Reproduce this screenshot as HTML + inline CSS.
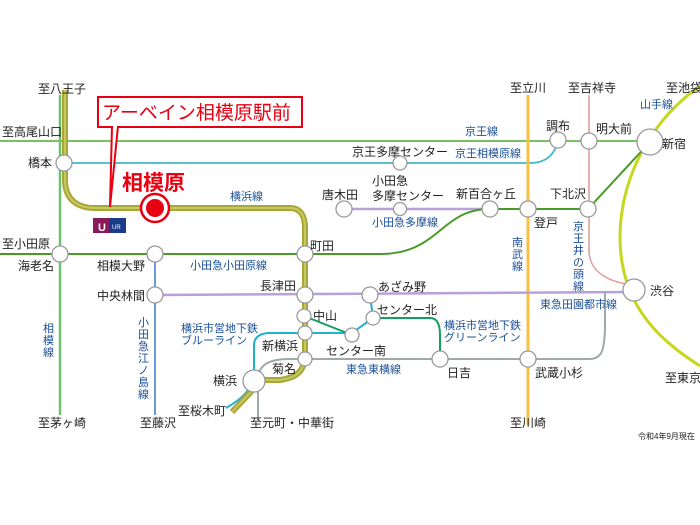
<!DOCTYPE html>
<html><head><meta charset="utf-8"><style>
html,body{margin:0;padding:0;background:#fff;}
svg{display:block;font-family:"Liberation Sans","Noto Sans CJK JP",sans-serif;}
.k{fill:#222;font-size:12px;}
.b{fill:#1a4f9a;font-size:11px;}
.s{fill:#fff;stroke:#999;stroke-width:1.3;}
</style></head><body>
<svg width="700" height="525" viewBox="0 0 700 525" xmlns="http://www.w3.org/2000/svg">
<rect width="700" height="525" fill="#fff"/>
<path d="M700,86 C640,128 612,200 622,262 C630,312 662,342 700,366" fill="none" stroke="#c5d81e" stroke-width="3"/>
<line x1="60" y1="95" x2="60" y2="415" stroke="#6cc070" stroke-width="2.5"/>
<line x1="0" y1="141" x2="650" y2="141" stroke="#7ac060" stroke-width="2"/>
<path d="M64,163 H530 C548,163 556,152 558,140" fill="none" stroke="#40b8c8" stroke-width="1.8"/>
<line x1="528" y1="95" x2="528" y2="425" stroke="#f8c040" stroke-width="3"/>
<path d="M589,95 V250 C589,270 605,280 626,284" fill="none" stroke="#e0a0a0" stroke-width="1.6"/>
<line x1="344" y1="209" x2="490" y2="209" stroke="#b8a0d8" stroke-width="2.5"/>
<path d="M0,254 H380 C440,254 440,209 490,209 H588 L650,142" fill="none" stroke="#4a9a2a" stroke-width="2"/>
<line x1="155" y1="254" x2="155" y2="415" stroke="#5b8fd8" stroke-width="1.8"/>
<line x1="155" y1="295" x2="634" y2="292" stroke="#b8a0d8" stroke-width="2.5"/>
<path d="M258,420 V380 C258,364 270,359 290,359 H590 C604,359 604,345 605,330 V292" fill="none" stroke="#a0a8a8" stroke-width="2"/>
<path d="M226,408 C240,400 254,390 254,370 V345 C254,336 262,333 270,333 H352 L373,318 L370,295" fill="none" stroke="#20b0d0" stroke-width="2"/>
<path d="M304,316 L352,335 M373,318 H430 C438,318 440,326 440,335 V359" fill="none" stroke="#10a060" stroke-width="2"/>
<path d="M65,90 V180 C65,200 78,208 95,208 H290 C300,208 305,215 305,228 V355 C305,372 295,378 280,380 H262 L232,412" fill="none" stroke="#a8a83a" stroke-width="6"/>
<path d="M65,90 V180 C65,200 78,208 95,208 H290 C300,208 305,215 305,228 V355 C305,372 295,378 280,380 H262 L232,412" fill="none" stroke="#c8c860" stroke-width="2"/>
<g class="s">
<circle cx="64" cy="163" r="8"/><circle cx="400" cy="163" r="7"/>
<circle cx="558" cy="140" r="8"/><circle cx="589" cy="141" r="8"/>
<circle cx="650" cy="142" r="13"/>
<circle cx="344" cy="209" r="8"/><circle cx="400" cy="209" r="6.5"/>
<circle cx="490" cy="209" r="8"/><circle cx="528" cy="209" r="8"/><circle cx="588" cy="209" r="8"/>
<circle cx="60" cy="254" r="8"/><circle cx="155" cy="254" r="8"/><circle cx="305" cy="254" r="8"/>
<circle cx="155" cy="295" r="8"/><circle cx="305" cy="295" r="8"/><circle cx="370" cy="295" r="8"/>
<circle cx="634" cy="290" r="11"/>
<circle cx="304" cy="316" r="7"/><circle cx="373" cy="318" r="7"/>
<circle cx="305" cy="333" r="7"/><circle cx="352" cy="335" r="7"/>
<circle cx="305" cy="359" r="7"/><circle cx="440" cy="359" r="8"/><circle cx="528" cy="359" r="8"/>
<circle cx="254" cy="381" r="11"/>
</g>
<circle cx="155" cy="208" r="15" fill="#fff"/>
<circle cx="155" cy="208" r="14" fill="none" stroke="#e60012" stroke-width="2.5"/>
<circle cx="155" cy="208" r="9" fill="#e60012"/>
<text x="122" y="190" fill="#e60012" font-size="21" font-weight="bold">相模原</text>
<path d="M112,126 L110,207 L118,126" fill="#fff" stroke="#e60012" stroke-width="2"/>
<rect x="98" y="97" width="204" height="30" fill="#fff" stroke="#e60012" stroke-width="2"/>
<line x1="113" y1="127" x2="117" y2="127" stroke="#fff" stroke-width="3"/>
<text x="102" y="119" fill="#e60012" font-size="19">アーベイン相模原駅前</text>
<rect x="93" y="218" width="16" height="15" fill="#8a1a5a"/>
<rect x="109" y="218" width="17" height="15" fill="#1a3a8a"/>
<text x="98" y="231" fill="#fff" font-size="11" font-weight="bold">U</text>
<text x="112" y="229" fill="#fff" font-size="6">UR</text>
<g class="k">
<text x="38" y="93">至八王子</text>
<text x="2" y="136">至高尾山口</text>
<text x="28" y="167">橋本</text>
<text x="2" y="248">至小田原</text>
<text x="18" y="270">海老名</text>
<text x="97" y="270">相模大野</text>
<text x="97" y="300">中央林間</text>
<text x="310" y="250">町田</text>
<text x="260" y="290">長津田</text>
<text x="313" y="320">中山</text>
<text x="262" y="350">新横浜</text>
<text x="272" y="373">菊名</text>
<text x="213" y="385">横浜</text>
<text x="178" y="415">至桜木町</text>
<text x="250" y="427">至元町・中華街</text>
<text x="38" y="427">至茅ヶ崎</text>
<text x="140" y="427">至藤沢</text>
<text x="378" y="291">あざみ野</text>
<text x="377" y="314">センター北</text>
<text x="326" y="355">センター南</text>
<text x="447" y="377">日吉</text>
<text x="535" y="377">武蔵小杉</text>
<text x="650" y="295">渋谷</text>
<text x="665" y="382">至東京</text>
<text x="510" y="427">至川崎</text>
<text x="510" y="92">至立川</text>
<text x="568" y="92">至吉祥寺</text>
<text x="666" y="92">至池袋</text>
<text x="546" y="130">調布</text>
<text x="596" y="133">明大前</text>
<text x="662" y="148">新宿</text>
<text x="352" y="156">京王多摩センター</text>
<text x="322" y="199">唐木田</text>
<text x="372" y="185">小田急</text>
<text x="372" y="200">多摩センター</text>
<text x="456" y="198">新百合ヶ丘</text>
<text x="550" y="198">下北沢</text>
<text x="534" y="227">登戸</text>
</g>
<g class="b">
<text x="465" y="135">京王線</text>
<text x="455" y="157">京王相模原線</text>
<text x="640" y="108">山手線</text>
<text x="230" y="200">横浜線</text>
<text x="190" y="269">小田急小田原線</text>
<text x="372" y="226">小田急多摩線</text>
<text x="540" y="308">東急田園都市線</text>
<text x="444" y="329">横浜市営地下鉄</text>
<text x="444" y="341">グリーンライン</text>
<text x="181" y="332">横浜市営地下鉄</text>
<text x="181" y="344">ブルーライン</text>
<text x="346" y="373">東急東横線</text>
<text x="512" y="246">南</text><text x="512" y="258">武</text><text x="512" y="270">線</text>
<text x="573" y="230">京</text><text x="573" y="242">王</text><text x="573" y="254">井</text><text x="573" y="266">の</text><text x="573" y="278">頭</text><text x="573" y="290">線</text>
<text x="43" y="332">相</text><text x="43" y="344">模</text><text x="43" y="356">線</text>
<text x="138" y="326">小</text><text x="138" y="338">田</text><text x="138" y="350">急</text><text x="138" y="362">江</text><text x="138" y="374">ノ</text><text x="138" y="386">島</text><text x="138" y="398">線</text>
</g>
<text x="638" y="439" fill="#222" font-size="8">令和4年9月現在</text>
</svg>
</body></html>
